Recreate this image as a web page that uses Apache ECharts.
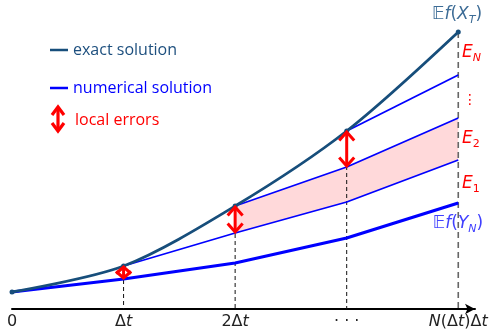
<!DOCTYPE html>
<html><head><meta charset="utf-8">
<script src="https://cdn.jsdelivr.net/npm/echarts@6/dist/echarts.min.js"></script>
<style>html,body{margin:0;padding:0;background:#fff}#c{width:497px;height:331px}</style>
</head><body><div id="c"></div>
<script>
// time steps (in units of Δt)
const steps = [0, 1, 2, 3, 4];
const tickLabels = ['0', 'Δt', '2Δt', '· · ·', 'N(Δt)Δt'];
// exact solution values at each step
const exact = [1.7, 4.3, 10.3, 17.8, 27.7];
// numerical solution started from 0
const numerical = [1.7, 3.0, 4.6, 7.1, 10.6];
// numerical solutions restarted from the exact solution at t = Δt, 2Δt, 3Δt
const branch1 = [[1, 4.3], [2, 7.6], [3, 10.7], [4, 14.9]];
const branch2 = [[2, 10.3], [3, 14.2], [4, 19.1]];
const branch3 = [[3, 17.8], [4, 23.4]];
// local errors: [step, top, bottom]
const errorArrows = [[1, 4.3, 3.0], [2, 10.3, 7.6], [3, 17.8, 14.2]];

const EXACT_C = '#174e7b';
const BLUE = '#0000ff';
const RED = '#ff0000';

const chart = echarts.init(document.getElementById('c'));

function chevron(cx, cy, dir, W, L) {
  return [[cx - W, cy + dir * L], [cx, cy], [cx + W, cy + dir * L]];
}

function fmtTick(v) {
  const i = Math.round(v);
  if (Math.abs(v - i) > 1e-6 || i < 0 || i >= tickLabels.length) return '';
  return tickLabels[i].replace(/t/g, '{i|t}').replace(/N/g, '{i|N}');
}

function mathRich(color) {
  const f = 'DejaVu Sans';
  return {
    n: { fontSize: 17, fill: color, fontFamily: f, lineHeight: 22 },
    i: { fontSize: 17, fill: color, fontFamily: f, fontStyle: 'italic', lineHeight: 22 },
    s: { fontSize: 11, fill: color, fontFamily: f, fontStyle: 'italic', lineHeight: 13, verticalAlign: 'bottom' },
    u: { fontSize: 11, fill: color, fontFamily: f, lineHeight: 13, verticalAlign: 'bottom' },
    e: { fontSize: 17, fill: color, fontFamily: f, fontStyle: 'italic', lineHeight: 22 }
  };
}

const option = {
  animation: false,
  grid: { left: 12, right: 22, top: 9, bottom: 22 },
  xAxis: {
    type: 'value', min: 0, max: 4.15, interval: 1,
    splitLine: { show: false },
    axisTick: { show: false },
    axisLine: { show: true, lineStyle: { color: '#000', width: 2 },
      symbol: ['none', 'arrow'], symbolSize: [8, 10] },
    axisLabel: {
      formatter: fmtTick, margin: 5, color: '#222', fontSize: 16,
      fontFamily: 'DejaVu Sans',
      rich: { i: { fontStyle: 'italic', fontSize: 16, color: '#222', fontFamily: 'DejaVu Sans' } }
    }
  },
  yAxis: { type: 'value', min: 0, max: 30, show: false },
  series: [
    // shaded region between branch1 and branch2
    {
      type: 'custom', z: 1, silent: true,
      data: [[2, 0]],
      renderItem: function (params, api) {
        const pts = [];
        branch2.forEach(p => pts.push(api.coord(p)));
        branch1.filter(p => p[0] >= 2).slice().reverse().forEach(p => pts.push(api.coord(p)));
        return { type: 'polygon', shape: { points: pts }, style: { fill: '#ffd9da', stroke: null } };
      }
    },
    // dashed verticals
    {
      type: 'custom', z: 2, silent: true, clip: false,
      data: steps.slice(1).map((s, i) => [s, exact[i + 1]]),
      renderItem: function (params, api) {
        const x = api.value(0), y = api.value(1);
        const last = x === steps[steps.length - 1];
        const p1 = api.coord([x, y]);
        const p2 = api.coord([x, last ? -0.25 : 0]);
        return { type: 'line', shape: { x1: p1[0], y1: p1[1], x2: p2[0], y2: p2[1] },
          style: { stroke: last ? '#666' : '#111', lineWidth: last ? 1.6 : 1, lineDash: last ? [6, 4] : [4, 3] } };
      }
    },
    { type: 'line', z: 3, data: branch1, symbol: 'none', lineStyle: { color: BLUE, width: 1.8 } },
    { type: 'line', z: 3, data: branch2, symbol: 'none', lineStyle: { color: BLUE, width: 1.8 } },
    { type: 'line', z: 3, data: branch3, symbol: 'none', lineStyle: { color: BLUE, width: 1.8 } },
    { type: 'line', z: 4, data: steps.map((s, i) => [s, numerical[i]]), symbol: 'none',
      lineStyle: { color: BLUE, width: 3.2 } },
    { type: 'line', z: 5, data: steps.map((s, i) => [s, exact[i]]), smooth: 0.3,
      symbol: 'circle', symbolSize: 5, showSymbol: true,
      itemStyle: { color: EXACT_C }, lineStyle: { color: EXACT_C, width: 2.8 } },
    // local error arrows
    {
      type: 'custom', z: 6, silent: true,
      data: errorArrows,
      renderItem: function (params, api) {
        const x = api.value(0), yt = api.value(1), yb = api.value(2);
        const p1 = api.coord([x, yt]), p2 = api.coord([x, yb]);
        const span = Math.abs(p2[1] - p1[1]);
        const L = Math.min(8.5, span / 2), W = 7.5;
        const st = { stroke: RED, lineWidth: 3, fill: null, lineJoin: 'miter' };
        return { type: 'group', children: [
          { type: 'line', shape: { x1: p1[0], y1: p1[1] + 1.5, x2: p2[0], y2: p2[1] - 1.5 }, style: st },
          { type: 'polyline', shape: { points: chevron(p1[0], p1[1] + 1, 1, W, L) }, style: st },
          { type: 'polyline', shape: { points: chevron(p2[0], p2[1] - 1, -1, W, L) }, style: st }
        ] };
      }
    }
  ],
  graphic: [
    { type: 'line', shape: { x1: 50, y1: 50, x2: 68, y2: 50 }, style: { stroke: EXACT_C, lineWidth: 2.5 } },
    { type: 'text', x: 73, y: 50, style: { text: 'exact solution', fill: '#1d4f7e', font: '16px "Open Sans"', verticalAlign: 'middle' } },
    { type: 'line', shape: { x1: 50, y1: 88, x2: 68, y2: 88 }, style: { stroke: BLUE, lineWidth: 2.5 } },
    { type: 'text', x: 73, y: 88, style: { text: 'numerical solution', fill: BLUE, font: '16px "Open Sans"', verticalAlign: 'middle' } },
    { type: 'line', shape: { x1: 58, y1: 108, x2: 58, y2: 130 }, style: { stroke: RED, lineWidth: 3.2 } },
    { type: 'polyline', shape: { points: chevron(58, 107, 1, 6, 8) }, style: { stroke: RED, lineWidth: 3.2, fill: null } },
    { type: 'polyline', shape: { points: chevron(58, 131, -1, 6, 8) }, style: { stroke: RED, lineWidth: 3.2, fill: null } },
    { type: 'text', x: 75, y: 120, style: { text: 'local errors', fill: RED, font: '16px "Open Sans"', verticalAlign: 'middle' } },
    { type: 'text', x: 457, y: 15, style: { text: '{n|𝔼}{i|f}{n|(}{i|X}{s|T}{n|)}', align: 'center', verticalAlign: 'middle', rich: mathRich('#3d6c96') } },
    { type: 'text', x: 458, y: 224, style: { text: '{n|𝔼}{i|f}{n|(}{i|Y}{s|N}{n|)}', align: 'center', verticalAlign: 'middle', rich: mathRich('#4040ff') } },
    { type: 'text', x: 462, y: 53, style: { text: '{e|E}{s|N}', verticalAlign: 'middle', rich: mathRich(RED) } },
    { type: 'text', x: 470, y: 100, style: { text: '⋮', fill: RED, font: '14px DejaVu Sans', align: 'center', verticalAlign: 'middle' } },
    { type: 'text', x: 462, y: 139, style: { text: '{e|E}{u|2}', verticalAlign: 'middle', rich: mathRich(RED) } },
    { type: 'text', x: 462, y: 184, style: { text: '{e|E}{u|1}', verticalAlign: 'middle', rich: mathRich(RED) } }
  ]
};
chart.setOption(option);
</script>
</body></html>
